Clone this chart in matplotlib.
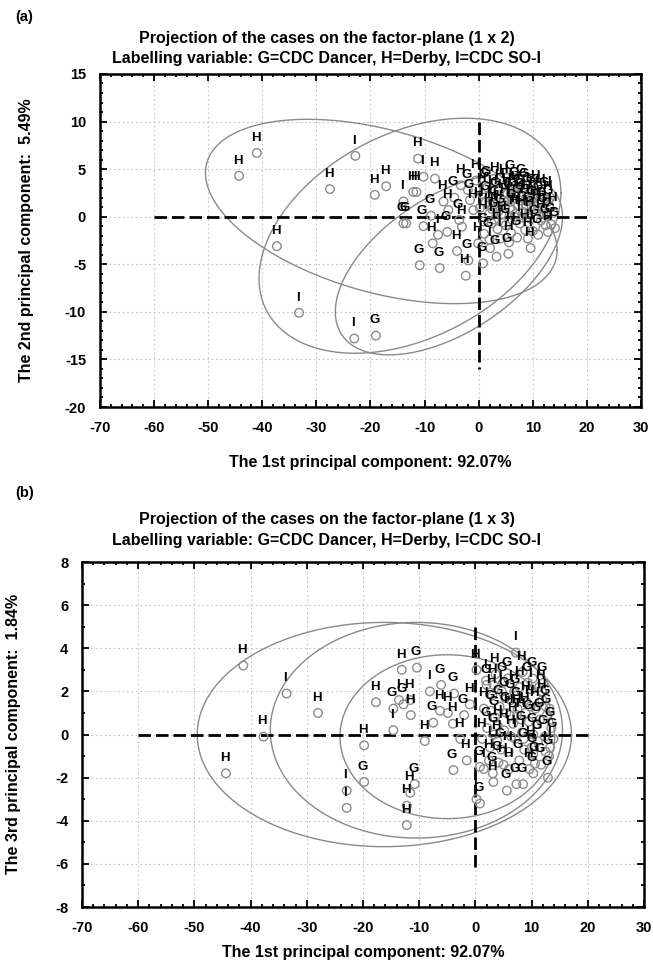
import numpy as np
import matplotlib
matplotlib.use("Agg")
import matplotlib.pyplot as plt
from matplotlib.ticker import MultipleLocator

plt.rcParams['font.family'] = ['Liberation Sans', 'DejaVu Sans']
plt.rcParams['font.weight'] = 'bold'
plt.rcParams['axes.unicode_minus'] = False

# ---- factor plane 1 x 2 : case scores ----
lab_a = list("HHIHHIIGHHHIHIHHGGGIGHGGHGGHHGHGHGHHIHGHGHGG"
             "HGHIHGHHGHGHIHGHHGIGGHHGHGHGHGHGGHGGHGGGIHGHGHGHGHHGHIHGHGHGIHGHGI"
             "HGHGHGHGHGHGHGI")
x_a = [-44.3, -41.0, -22.8, -27.5, -37.3, -33.2, -23.0, -19.0, -19.2, -17.1, -11.2, -10.2, -8.1,
       -13.9, -12.1, -11.5, -13.9, -13.4, -10.2, -7.5, -5.8, -4.0, -10.9, -7.2, -2.4, 3.3, 5.5,
       9.6, -3.3, -2.0, -5.6, -3.6, -3.1, -1.6, -1.0, -0.1, 2.1, -6.5, -4.5, -0.5, -8.8, -8.5,
       -1.9, 0.8,
       0.6, 1.3, 1.9, 2.4, 2.7, 3.1, 3.5, 3.9, 4.2, 4.6, 5.0, 5.3, 5.7, 6.0, 6.3, 6.6, 7.0, 7.3,
       7.6, 7.9, 8.2, 8.6, 8.9, 9.2, 9.5, 9.8, 10.2, 10.5, 10.8, 11.1, 11.5, 11.8, 12.2, 12.6,
       13.0, 13.4, 13.8, 14.1, 1.0, 2.0, 4.0, 5.6, 7.1, 9.1, 11.0, 12.8, 6.8, 4.8, 8.5, 10.6,
       3.0, 1.6, 0.2, 2.2, 4.4, 6.2, 8.0, 9.3, 11.6, 12.4, 13.2, 3.7, 5.9, 7.7, 2.9, 10.0, 0.9,
       1.1, 2.5, 3.3, 4.9, 5.6, 6.9, 7.4, 8.7, 9.9, 10.4, 11.9, 12.9, 8.1, 6.1, 9.0]
y_a = [4.3, 6.7, 6.4, 2.9, -3.1, -10.1, -12.8, -12.5, 2.3, 3.2, 6.1, 4.2, 4.0,
       1.6, 2.6, 2.6, -0.7, -0.7, -1.0, -1.9, -1.6, -3.6, -5.1, -5.4, -6.2, -4.2, -3.9,
       -3.3, 3.3, 2.8, 0.7, -0.35, -1.05, 1.75, 0.7, -2.8, -3.3, 1.6, 2.0, 3.8, 0.1, -2.8,
       -4.6, -4.9,
       2.4, 1.5, 0.3, -0.7, 2.1, 1.0, -1.3, 2.8, 0.2, 1.7, -0.9, 2.4, 0.9, -1.7, 1.9, 0.0, 2.6, 1.2,
       -0.7, 2.1, 0.5, -1.4, 1.6, 2.4, -0.2, 1.0, 2.0, -1.0, 0.6, 1.5, -0.4, 0.9, 1.9, 0.1,
       1.1, -0.8, 0.4, -1.2, -1.8, -2.4, -2.3, -2.7, -2.2, -2.3, -1.9, -1.6, 3.0, 3.3, 2.9, 2.7,
       3.5, 3.1, 0.9, 1.3, -0.6, 0.7, -0.1, 0.4, 2.3, -0.9, 2.0, 0.6, 3.7, 1.7, -0.3, -1.5, -0.5,
       2.9, 0.8, 1.9, 1.2, 1.8, 0.3, 2.3, 1.2, 2.2, 1.1, 0.3, 1.6, 3.3, 2.9, 0.0]

# ---- factor plane 1 x 3 : case scores ----
lab_b = list("HIHHHHHGIIHGGIHGHIHIGGHGHHIHGGHGIHGGGGGGIIGHHHIGHHGH"
             "HGIHGHGIHGHGHIGHGGHGIGHGGHGGGGHGHGHGGHGHGIHGHGHGGIHGH"
             "HGHGHGHGHGHGIHG")
x_b = [-41.3, -33.6, -28.0, -37.7, -44.4, -17.7, -19.8, -19.8, -22.9, -22.9, -13.1, -10.4, -14.6,
       -13.6, -11.6, -12.8, -11.5, -14.6, -9.0, -8.1, -6.1, -3.8, -6.3, -7.5, -4.9, 0.2, 1.9, 3.2,
       4.9, -3.9, -1.55, 0.8, 1.5, 3.2, 5.6, 7.3, 8.5, 10.3, 10.6, 10.3, 13.3, 7.2, -10.8, -11.6,
       -12.2, -12.2, 0.2, 0.8, -2.7, -4.0, -2.0, -1.0,
       1.5, 2.1, 2.6, 3.0, 3.5, 3.9, 4.3, 4.7, 5.1, 5.5, 5.9, 6.3, 6.7, 7.1, 7.5, 7.9, 8.3, 8.7,
       9.1, 9.5, 9.9, 10.3, 10.7, 11.1, 11.5, 11.9, 12.3, 12.7, 13.1, 13.5, 2.4, 4.1, 6.0, 7.8,
       9.6, 11.7, 12.9, 3.6, 5.8, 8.4, 10.2, 11.3, 1.2, 2.0, 6.9, 4.6, 8.9, 12.1, 13.9, 12.5,
       6.4, 3.3, 10.0, 7.4,
       2.8, 4.0, 5.3, 6.1, 7.3, 8.1, 9.3, 9.8, 10.9, 11.8, 12.5, 8.6, 5.0, 3.1, 13.2]
y_b = [3.2, 1.9, 1.0, -0.1, -1.8, 1.5, -0.5, -2.2, -2.6, -3.4, 3.0, 3.1, 1.2,
       1.6, 1.6, 1.4, 0.9, 0.2, -0.3, 2.0, 2.3, 1.9, 1.1, 0.55, 1.0, 3.0, 2.5, 2.3,
       2.4, -1.65, -1.2, -1.5, -1.6, -2.2, -2.6, -2.3, -2.3, -0.9, -1.35, -1.8, -0.6, 3.8, -2.3, -2.7,
       -3.3, -4.2, -3.0, -3.2, -0.2, 0.5, 0.9, 1.4,
       1.2, 0.3, -0.6, 1.8, 0.8, -0.3, 1.3, 2.0, 0.2, 1.0, -0.8, 1.6, 0.5, -0.2, 1.2, 2.2, 0.1, -0.7,
       1.5, 0.6, 2.1, 0.0, 1.2, -0.3, 0.7, 1.6, -0.1, 0.9, -1.0, 0.3, -1.2, -1.3, -1.6, -1.2,
       -1.6, -1.4, -2.0, 2.8, 2.6, 2.9, 2.6, 2.2, -0.2, 2.3, 2.0, -0.7, 1.0, 2.4, -0.2, -0.8,
       -0.1, 0.0, -0.6, 0.9,
       1.1, 0.4, 1.7, 0.9, 1.8, 0.7, 2.4, 1.3, 0.5, 2.0, 1.3, -0.2, -1.4, -1.8, 1.2]

# group ellipses: centre x, centre y, half-width vector (ux, uy), vertical half-height
ell_a = [(-18.0, 0.55, 32.5, -4.05, 8.8),    # Derby
         (-12.7, -2.0, 27.9, 4.5, 11.5),     # CDC SO-I
         (-5.5, -5.0, 21.0, 5.0, 8.1)]       # CDC Dancer
ell_b = [(-16.2, 0.0, 33.3, 0.0, 5.2),
         (-10.5, 0.2, 26.0, 0.0, 5.0),
         (-5.0, -0.1, 19.1, 0.0, 3.8)]

xticks = [-70, -60, -50, -40, -30, -20, -10, 0, 10, 20, 30]


def draw_plane(ax, xs, ys, labs, ells, ylim, ymajor, yminor, vline):
    t = np.linspace(0, 2 * np.pi, 300)
    for cx, cy, ux, uy, b in ells:
        ax.plot(cx + ux * np.cos(t), cy + uy * np.cos(t) + b * np.sin(t),
                color='#8a8a8a', lw=1.0, zorder=2)
    ax.plot([-60, 20], [0, 0], color='black', lw=2.0, dashes=(4.5, 1.8), zorder=3)
    ax.plot([0, 0], vline, color='black', lw=2.0, dashes=(4.5, 1.8), zorder=3)
    ax.scatter(xs, ys, s=38, facecolors='none', edgecolors='#8c8c8c', linewidths=1.0, zorder=4)
    for x, y, s in zip(xs, ys, labs):
        ax.annotate(s, (x, y), xytext=(-1, 11), textcoords='offset points',
                    ha='center', va='center', fontsize=9.5, fontweight='bold',
                    color='black', zorder=5)
    ax.set_xlim(-70, 30)
    ax.set_ylim(*ylim)
    ax.set_xticks(xticks)
    ax.xaxis.set_minor_locator(MultipleLocator(2))
    ax.yaxis.set_major_locator(MultipleLocator(ymajor))
    ax.yaxis.set_minor_locator(MultipleLocator(yminor))
    ax.grid(True, which='major', color='#c4c4c4', ls=(0, (1.5, 2.5)), lw=0.8)
    ax.set_axisbelow(True)
    ax.tick_params(which='both', direction='in', top=True, right=True,
                   width=1.3, labelsize=10.5, pad=10)
    ax.tick_params(which='major', length=5)
    ax.tick_params(which='minor', length=2.5)
    for sp in ax.spines.values():
        sp.set_linewidth(1.8)


fig = plt.figure(figsize=(6.53, 9.67), dpi=100)

ax1 = fig.add_axes([0.1531, 0.5791, 0.8285, 0.3444])
draw_plane(ax1, x_a, y_a, lab_a, ell_a, (-20, 15), 5, 1, [10, -16])
ax2 = fig.add_axes([0.1256, 0.0620, 0.8606, 0.3568])
draw_plane(ax2, x_b, y_b, lab_b, ell_b, (-8, 8), 2, 1, [5, -6.2])

fig.text(0.023, 0.982, '(a)', fontsize=10.5, ha='left', va='center')
fig.text(0.5, 0.9597, 'Projection of the cases on the factor-plane (1 x 2)', fontsize=11.5,
         ha='center', va='center')
fig.text(0.5, 0.9390, 'Labelling variable: G=CDC Dancer, H=Derby, I=CDC SO-I', fontsize=11.5,
         ha='center', va='center')
fig.text(0.567, 0.5212, 'The 1st principal component: 92.07%', fontsize=11.5, ha='center', va='center')
fig.text(0.041, 0.7518, 'The 2nd principal component:  5.49%', fontsize=11.5, ha='center',
         va='center', rotation=90)

fig.text(0.023, 0.4902, '(b)', fontsize=10.5, ha='left', va='center')
fig.text(0.5, 0.4623, 'Projection of the cases on the factor-plane (1 x 3)', fontsize=11.5,
         ha='center', va='center')
fig.text(0.5, 0.4406, 'Labelling variable: G=CDC Dancer, H=Derby, I=CDC SO-I', fontsize=11.5,
         ha='center', va='center')
fig.text(0.556, 0.0155, 'The 1st principal component: 92.07%', fontsize=11.5, ha='center', va='center')
fig.text(0.021, 0.241, 'The 3rd principal component:  1.84%', fontsize=11.5, ha='center',
         va='center', rotation=90)

fig.savefig('out.png', dpi=100)
